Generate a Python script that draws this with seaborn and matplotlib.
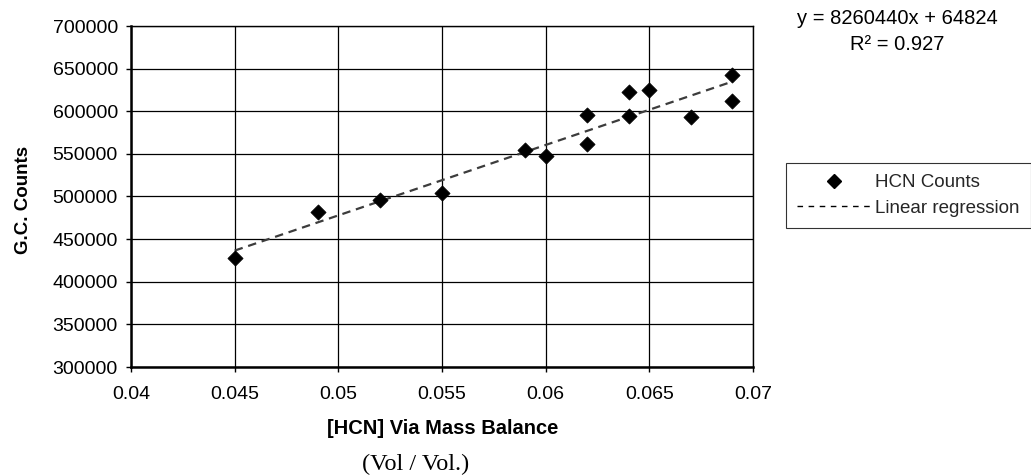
import numpy as np
import pandas as pd
import matplotlib
matplotlib.use("Agg")
import matplotlib.pyplot as plt
import seaborn as sns
from matplotlib.lines import Line2D

# Data
hcn_conc = [0.045, 0.049, 0.052, 0.055, 0.059, 0.060, 0.062, 0.062,
            0.064, 0.064, 0.065, 0.067, 0.069, 0.069]
gc_counts = [428000, 482000, 496000, 504000, 554000, 548000, 596000, 562000,
             623000, 595000, 625000, 593000, 642000, 612000]
slope = 8260440
intercept = 64824
r_squared = 0.927
x_ticks = [0.04, 0.045, 0.05, 0.055, 0.06, 0.065, 0.07]
x_tick_labels = ["0.04", "0.045", "0.05", "0.055", "0.06", "0.065", "0.07"]
y_ticks = [300000, 350000, 400000, 450000, 500000, 550000, 600000, 650000, 700000]

sns.set_theme(style="white")
plt.rcParams['font.family'] = ['Liberation Sans', 'DejaVu Sans']

W, H = 1031, 476
fig = plt.figure(figsize=(W / 100, H / 100), dpi=100)
ax = fig.add_axes([131 / W, 1 - 367 / H, 622 / W, 341 / H])

df = pd.DataFrame({"x": hcn_conc, "y": gc_counts})
fit_x = [min(hcn_conc), max(hcn_conc)]
fit_df = pd.DataFrame({"x": fit_x, "y": [slope * v + intercept for v in fit_x]})

sns.lineplot(data=fit_df, x="x", y="y", ax=ax, color="#3c3c3c", linewidth=1.6,
             linestyle=(0, (3.8, 2.6)), zorder=3)
sns.scatterplot(data=df, x="x", y="y", ax=ax, marker="D", s=60, color="black",
                edgecolor="black", linewidth=0.5, zorder=4)

ax.set_xlim(0.04, 0.07)
ax.set_ylim(300000, 700000)
ax.set_xticks(x_ticks)
ax.set_xticklabels(x_tick_labels)
ax.set_yticks(y_ticks)
ax.set_yticklabels([str(v) for v in y_ticks])
ax.grid(True, color="black", linewidth=0.9)
ax.set_axisbelow(True)

for side in ["top", "right"]:
    ax.spines[side].set_visible(True)
    ax.spines[side].set_color("black")
    ax.spines[side].set_linewidth(1.0)
for side in ["left", "bottom"]:
    ax.spines[side].set_color("black")
    ax.spines[side].set_linewidth(1.8)

ax.tick_params(axis="both", which="major", direction="out", length=3.5, width=1,
               color="black", labelsize=14, labelcolor="black",
               left=True, bottom=True)
ax.tick_params(axis="x", pad=10)
ax.tick_params(axis="y", pad=6)

ax.set_xlabel("")
ax.set_ylabel("G.C. Counts", fontsize=13.5, fontweight="bold", color="black")
ax.yaxis.set_label_coords((32 - 131) / 622, 0.49)

fig.text(443 / W, 1 - 428 / H, "[HCN] Via Mass Balance", ha="center", va="center",
         fontsize=14.5, fontweight="bold", color="black")
fig.text(416 / W, 1 - 464 / H, "(Vol / Vol.)", ha="center", va="center",
         fontsize=17.5, color="black", family=["Liberation Serif", "DejaVu Serif"])

fig.text(897 / W, 1 - 19 / H, f"y = {slope}x + {intercept}", ha="center", va="center",
         fontsize=14.5, color="black")
fig.text(897 / W, 1 - 45 / H, f"R\u00b2 = {r_squared}", ha="center", va="center",
         fontsize=14.5, color="black")

handles = [
    Line2D([0], [0], marker="D", color="black", linestyle="None", markersize=7),
    Line2D([0], [0], color="black", linestyle=(0, (4, 4)), linewidth=1.0),
]
leg = fig.legend(handles, ["HCN Counts", "Linear regression"],
                 loc="upper left", bbox_to_anchor=(786 / W, 1 - 163 / H),
                 frameon=True, fancybox=False, fontsize=13.5, handlelength=3.9,
                 handletextpad=0.25, borderpad=0.6, labelspacing=0.45, borderaxespad=0)
leg.get_frame().set_edgecolor("black")
leg.get_frame().set_linewidth(0.8)

fig.savefig("out.png", dpi=100)
